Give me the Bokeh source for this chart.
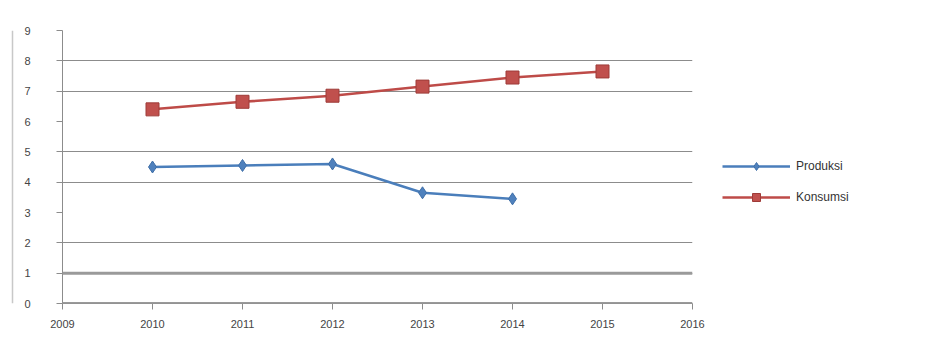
from bokeh.plotting import figure
from bokeh.layouts import row
from bokeh.models import FixedTicker, Legend, LegendItem, Span
from bokeh.embed import file_html
from bokeh.resources import INLINE

# ---- data ----
years = ["2009", "2010", "2011", "2012", "2013", "2014", "2015", "2016"]
produksi_years = ["2010", "2011", "2012", "2013", "2014"]
produksi = [4.5, 4.55, 4.6, 3.65, 3.45]
konsumsi_years = ["2010", "2011", "2012", "2013", "2014", "2015"]
konsumsi = [6.4, 6.65, 6.85, 7.15, 7.45, 7.65]
y_ticks = [0, 1, 2, 3, 4, 5, 6, 7, 8, 9]
y_grid = [0, 1, 2, 4, 5, 7, 8, 9]
series_names = ["Produksi", "Konsumsi"]

px = [years.index(y) for y in produksi_years]
kx = [years.index(y) for y in konsumsi_years]

FONT = "Liberation Sans"
GRID = "#8c8c8c"
BLUE, BLUE_EDGE, BLUE_LINE = "#4F81BD", "#3F6FA8", "#4A7EBB"
RED, RED_EDGE, RED_LINE = "#C0504D", "#9E3B38", "#BE4B48"

# narrow left strip holding the chart-area border line
strip = figure(width=14, height=344, output_backend="svg", toolbar_location=None,
               x_range=(0, 14), y_range=(0, 344), min_border=0)
strip.axis.visible = False
strip.grid.visible = False
strip.outline_line_color = None
strip.add_layout(Span(location=12, dimension="height", line_color="#c8c8c8", line_width=1.5))

p = figure(width=698, height=344, output_backend="svg", toolbar_location=None,
           x_range=(0, len(years) - 1), y_range=(0, 9),
           min_border_left=48, min_border_right=20, min_border_top=30, min_border_bottom=41)
p.outline_line_color = None
p.background_fill_color = "white"
p.border_fill_color = "white"

p.xaxis.ticker = FixedTicker(ticks=list(range(len(years))))
p.xaxis.major_label_overrides = {i: y for i, y in enumerate(years)}
p.yaxis.ticker = FixedTicker(ticks=y_ticks)
for ax in (p.xaxis[0], p.yaxis[0]):
    ax.axis_line_color = GRID
    ax.major_tick_line_color = GRID
    ax.major_tick_out = 6
    ax.major_tick_in = 0
    ax.minor_tick_line_color = None
    ax.major_label_text_font = FONT
    ax.major_label_text_font_size = "11px"
    ax.major_label_text_color = "#444444"
p.xaxis.major_label_standoff = 10
p.yaxis.major_label_standoff = 26

p.xgrid.visible = False
p.ygrid.ticker = FixedTicker(ticks=y_grid)
p.ygrid.grid_line_color = GRID
p.ygrid.grid_line_width = 1

for yv in (0, 1):
    p.add_layout(Span(location=yv, dimension="width", line_color="#9a9a9a", line_width=3))

p.line(px, produksi, line_color=BLUE_LINE, line_width=2.5)
p.scatter(px, produksi, marker="diamond", size=12, fill_color=BLUE, line_color=BLUE_EDGE)
p.line(kx, konsumsi, line_color=RED_LINE, line_width=2.5)
p.scatter(kx, konsumsi, marker="square", size=13, fill_color=RED, line_color=RED_EDGE)

# legend figure on the right: same series, but its view range lies elsewhere so
# only the legend glyphs are visible
lf = figure(width=218, height=344, output_backend="svg", toolbar_location=None,
            x_range=(100, 101), y_range=(100, 101), min_border=0)
lf.axis.visible = False
lf.grid.visible = False
lf.outline_line_color = None
l1 = lf.line(px, produksi, line_color=BLUE_LINE, line_width=2.5)
l1m = lf.scatter(px, produksi, marker="diamond", size=10, fill_color=BLUE, line_color=BLUE_EDGE)
l2 = lf.line(kx, konsumsi, line_color=RED_LINE, line_width=2.5)
l2m = lf.scatter(kx, konsumsi, marker="square", size=12, fill_color=RED, line_color=RED_EDGE)
legend = Legend(items=[LegendItem(label=series_names[0], renderers=[l1, l1m]),
                       LegendItem(label=series_names[1], renderers=[l2, l2m])],
                location=(10, 96), orientation="vertical",
                glyph_width=68, glyph_height=20, spacing=11, padding=0,
                label_standoff=6, label_text_font=FONT, label_text_font_size="12px",
                label_text_color="#333333", border_line_alpha=0, background_fill_alpha=0)
lf.add_layout(legend, "center")

layout = row(strip, p, lf, spacing=0)
open("out.html", "w").write(file_html(layout, INLINE))
